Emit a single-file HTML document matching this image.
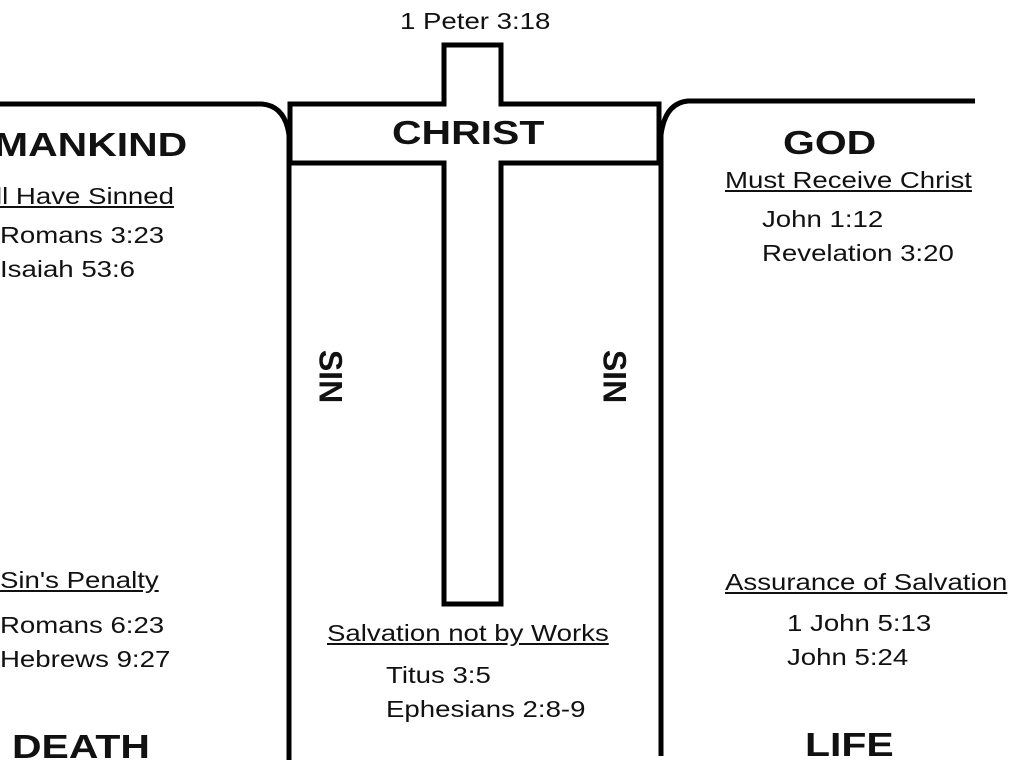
<!DOCTYPE html>
<html><head><style>
body{margin:0;width:1024px;height:768px;background:#fff;overflow:hidden;position:relative;font-family:"Liberation Sans",sans-serif;color:#111}
.t{position:absolute;white-space:nowrap;font-size:23px;transform:scaleX(1.2);transform-origin:0 0}
.b{font-weight:bold;font-size:33px;transform:scaleX(1.24)}
.u{text-decoration:underline}
.sin{position:absolute;font-weight:bold;font-size:32px;transform:rotate(90deg);transform-origin:center}
</style></head><body>
<svg width="1024" height="768" style="position:absolute;left:0;top:0">
<g fill="none" stroke="#000" stroke-width="5">
<path d="M0,104 L262,104 Q285,106 289,135 L289,760"/>
<path d="M975,101 L688,101 Q665,103 661,135 L661,756"/>
<path d="M444,104 L444,45 L501,45 L501,104 L659,104 L659,163 L501,163 L501,604 L444,604 L444,163 L290,163 L290,104 Z"/>
</g>
</svg>
<div class="t" style="left:400px;top:8px">1 Peter 3:18</div>
<div class="t b" style="left:392px;top:114px">CHRIST</div>
<div class="t b" style="left:-6px;top:126px">MANKIND</div>
<div class="t u" style="left:-4px;top:183px">ll Have Sinned</div>
<div class="t" style="left:0px;top:222px">Romans 3:23</div>
<div class="t" style="left:0px;top:256px">Isaiah 53:6</div>
<div class="t u" style="left:0px;top:567px">Sin's Penalty</div>
<div class="t" style="left:0px;top:612px">Romans 6:23</div>
<div class="t" style="left:0px;top:646px">Hebrews 9:27</div>
<div class="t b" style="left:12px;top:728px">DEATH</div>
<div class="t b" style="left:783px;top:124px">GOD</div>
<div class="t u" style="left:725px;top:167px">Must Receive Christ</div>
<div class="t" style="left:762px;top:206px">John 1:12</div>
<div class="t" style="left:762px;top:240px">Revelation 3:20</div>
<div class="t u" style="left:725px;top:569px">Assurance of Salvation</div>
<div class="t" style="left:787px;top:610px">1 John 5:13</div>
<div class="t" style="left:787px;top:644px">John 5:24</div>
<div class="t b" style="left:805px;top:726px">LIFE</div>
<div class="t u" style="left:327px;top:620px">Salvation not by Works</div>
<div class="t" style="left:386px;top:662px">Titus 3:5</div>
<div class="t" style="left:386px;top:696px">Ephesians 2:8-9</div>
<div class="sin" style="left:295px;top:358px;width:70px;text-align:center">SIN</div>
<div class="sin" style="left:579px;top:358px;width:70px;text-align:center">SIN</div>
</body></html>
